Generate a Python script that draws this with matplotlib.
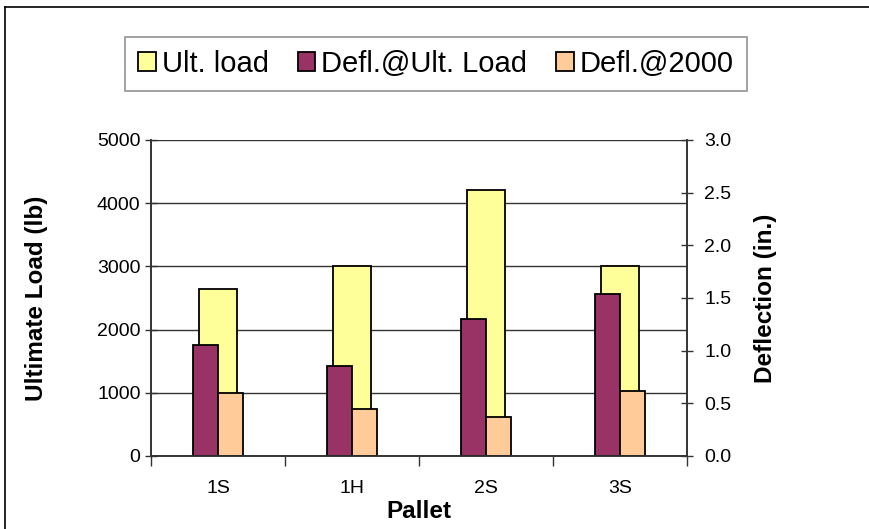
import matplotlib
matplotlib.use("Agg")
import matplotlib.pyplot as plt
from matplotlib.lines import Line2D
import numpy as np

plt.rcParams['font.family'] = ['Liberation Sans', 'DejaVu Sans']

pallets = ['1S', '1H', '2S', '3S']
ult_load = [2640, 3000, 4210, 3010]          # lb, left axis
defl_ult = [1.05, 0.85, 1.30, 1.54]          # in., right axis
defl_2000 = [0.60, 0.45, 0.37, 0.62]         # in., right axis

yellow = '#FFFF99'
maroon = '#993366'
peach = '#FFCC99'

fig = plt.figure(figsize=(8.7, 5.29), dpi=100)
L, R, T, B = 151, 687, 140, 456
ax = fig.add_axes([L / 870, 1 - B / 529, (R - L) / 870, (B - T) / 529])
ax2 = ax.twinx()

x = np.arange(len(pallets))
w_load = 0.284
w_defl = 0.187

ax.bar(x, ult_load, w_load, color=yellow, edgecolor='black', linewidth=1.3,
       label='Ult. load', zorder=2)
ax2.bar(x - w_defl / 2, defl_ult, w_defl, color=maroon, edgecolor='black',
        linewidth=1.3, label='Defl.@Ult. Load', zorder=2)
ax2.bar(x + w_defl / 2, defl_2000, w_defl, color=peach, edgecolor='black',
        linewidth=1.3, label='Defl.@2000', zorder=2)

ax.set_xlim(-0.5, len(pallets) - 0.5)
ax.set_ylim(0, 5000)
ax2.set_ylim(0, 3.0)
ax.set_yticks(np.arange(0, 5001, 1000))
ax2.set_yticks(np.arange(0, 3.01, 0.5))
ax2.set_yticklabels([f'{v:.1f}' for v in np.arange(0, 3.01, 0.5)])

# category ticks at the boundaries, labels at the centres
ax.set_xticks(np.arange(-0.5, len(pallets), 1.0))
ax.set_xticklabels([])
ax.set_xticks(x, minor=True)
ax.set_xticklabels(pallets, minor=True)
ax.tick_params(axis='x', which='major', length=7, width=1, color='#333333')
ax.tick_params(axis='x', which='minor', length=0, pad=17, labelsize=14)
ax.tick_params(axis='y', direction='inout', length=9, width=1, color='#333333',
               labelsize=14, pad=3)
ax2.tick_params(axis='y', direction='inout', length=9, width=1, color='#333333',
                labelsize=14, pad=8)

ax.grid(axis='y', color='#333333', linewidth=1, zorder=0)
ax.set_axisbelow(True)
for a in (ax, ax2):
    a.spines['top'].set_visible(False)
    for s in ('left', 'right', 'bottom'):
        a.spines[s].set_color('#333333')
        a.spines[s].set_linewidth(1.2)

ax.set_xlabel('Pallet', fontsize=17.5, fontweight='bold', va='center')
ax.set_ylabel('Ultimate Load (lb)', fontsize=17.5, fontweight='bold', va='center')
ax2.set_ylabel('Deflection (in.)', fontsize=17.5, fontweight='bold', va='center')
ax.xaxis.set_label_coords(0.5, (B - 511) / (B - T))
ax.yaxis.set_label_coords((37 - L) / (R - L), 0.5)
ax2.yaxis.set_label_coords((766 - L) / (R - L), 0.5)

h1, l1 = ax.get_legend_handles_labels()
h2, l2 = ax2.get_legend_handles_labels()
leg = fig.legend(h1 + h2, l1 + l2, loc='center', bbox_to_anchor=(436 / 870, 1 - 64 / 529),
                 ncol=3, fontsize=21, frameon=True, fancybox=False,
                 edgecolor='#777777', handlelength=0.6, handleheight=0.6,
                 handletextpad=0.2, columnspacing=1.0, borderpad=0.45)
leg.get_frame().set_linewidth(1.2)

# outer chart border (left and top edges visible)
fig.add_artist(Line2D([5 / 870, 5 / 870], [0, 1 - 7 / 529], transform=fig.transFigure,
                      color='black', linewidth=1.2))
fig.add_artist(Line2D([5 / 870, 1], [1 - 7 / 529, 1 - 7 / 529], transform=fig.transFigure,
                      color='black', linewidth=1.2))

fig.savefig('out.png', dpi=100)
